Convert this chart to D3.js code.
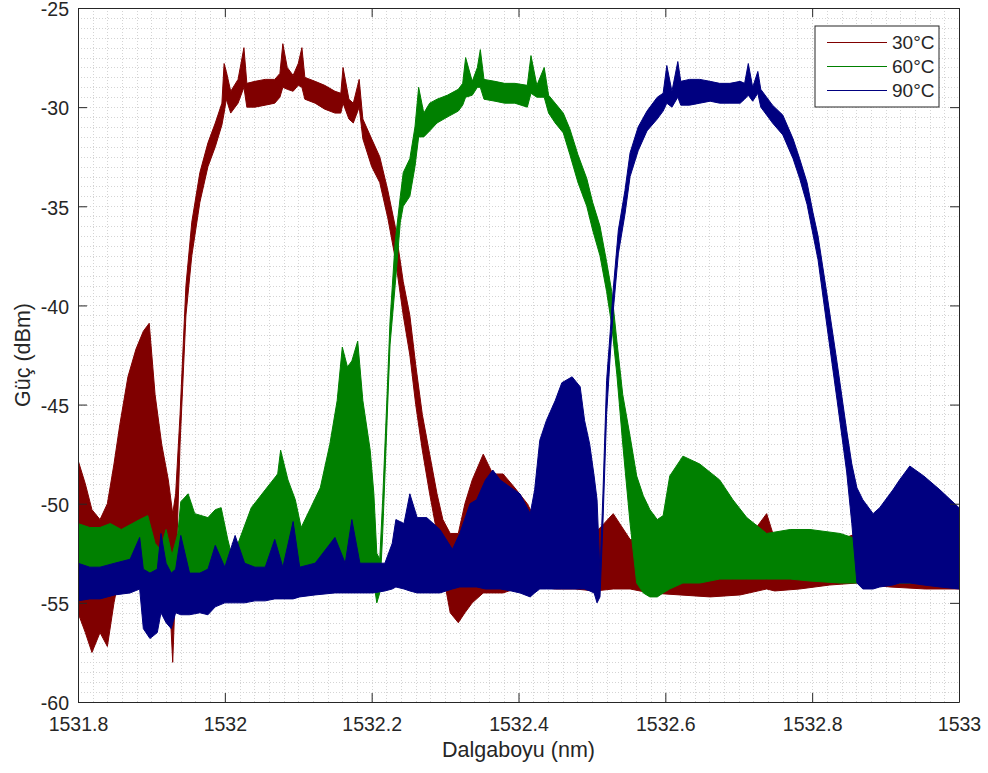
<!DOCTYPE html>
<html>
<head>
<meta charset="utf-8">
<script src="https://cdn.jsdelivr.net/npm/d3@7"></script>
<style>
  body { margin: 0; background: #fff; }
  svg text { font-family: "Liberation Sans", Arial, Helvetica, sans-serif; fill: #262626; }
</style>
</head>
<body>
<svg id="chart"></svg>
<script>
// legend / colours
const seriesNames = ['30°C', '60°C', '90°C'];
const seriesColors = ['#800000', '#008000', '#000080'];

// tick labels
const xTicks = [1531.8, 1532, 1532.2, 1532.4, 1532.6, 1532.8, 1533];
const yTicks = [-60, -55, -50, -45, -40, -35, -30, -25];

// 30°C : wavelength (nm), lower and upper edge of the noise band (dBm)
const wl30 = [1531.800, 1531.810, 1531.819, 1531.830, 1531.840, 1531.849, 1531.857, 1531.868, 1531.879, 1531.889,
  1531.897, 1531.905, 1531.914, 1531.923, 1531.929, 1531.933, 1531.939, 1531.947, 1531.955, 1531.966,
  1531.977, 1531.987, 1531.996, 1531.999, 1532.002, 1532.008, 1532.018, 1532.026, 1532.030, 1532.041,
  1532.055, 1532.068, 1532.075, 1532.079, 1532.085, 1532.093, 1532.100, 1532.105, 1532.109, 1532.123,
  1532.136, 1532.150, 1532.158, 1532.161, 1532.169, 1532.175, 1532.183, 1532.188, 1532.200, 1532.211,
  1532.222, 1532.232, 1532.243, 1532.252, 1532.260, 1532.269, 1532.279, 1532.289, 1532.297, 1532.307,
  1532.318, 1532.327, 1532.337, 1532.352, 1532.365, 1532.379, 1532.395, 1532.412, 1532.429, 1532.450,
  1532.477, 1532.504, 1532.529, 1532.552, 1532.579, 1532.620, 1532.661, 1532.702, 1532.738, 1532.749,
  1532.783, 1532.824, 1532.861, 1532.906, 1532.954, 1533.000];
const lo30 = [-55.5, -56.5, -57.5, -56.5, -57.2, -55.0, -53.5, -53.5, -53.5, -53.5,
  -53.5, -53.5, -53.5, -53.5, -58.0, -54.0, -47.0, -40.5, -37.5, -34.8,
  -33.0, -32.0, -30.9, -30.3, -29.6, -30.3, -29.8, -29.0, -30.0, -30.0,
  -29.9, -29.8, -29.5, -29.0, -29.1, -29.2, -28.9, -29.0, -29.6, -29.8,
  -30.1, -30.3, -30.3, -29.8, -30.6, -30.8, -30.0, -31.6, -33.0, -33.8,
  -35.6, -37.6, -40.5, -42.5, -45.0, -47.3, -49.5, -51.5, -53.5, -55.5,
  -56.0, -55.5, -55.0, -54.5, -54.5, -54.5, -54.3, -54.2, -54.2, -54.3,
  -54.3, -54.4, -54.3, -54.3, -54.5, -54.6, -54.7, -54.6, -54.3, -54.4,
  -54.3, -54.1, -54.0, -54.2, -54.3, -54.3];
const hi30 = [-47.8, -49.0, -50.3, -50.8, -50.0, -48.0, -46.0, -43.6, -42.2, -41.3,
  -40.9, -44.5, -47.0, -48.8, -50.5, -49.5, -45.5, -39.0, -35.8, -33.3,
  -31.8, -30.8, -29.8, -27.8, -28.2, -29.2, -28.6, -27.0, -28.8, -28.7,
  -28.6, -28.6, -28.3, -26.8, -28.0, -28.4, -27.8, -27.0, -28.5, -28.7,
  -28.9, -29.2, -29.3, -28.0, -29.6, -29.8, -28.6, -30.6, -31.6, -32.5,
  -34.2, -36.0, -38.8, -40.5, -43.0, -45.5, -47.5, -49.5, -50.8, -51.5,
  -51.5, -50.0, -48.8, -47.5, -48.5, -48.5, -49.2, -50.0, -51.2, -51.6,
  -51.6, -51.5, -50.5, -51.8, -52.0, -52.3, -52.4, -52.3, -50.5, -51.8,
  -51.8, -52.0, -51.5, -52.2, -52.5, -52.5];

// 60°C
const wl60 = [1531.800, 1531.816, 1531.830, 1531.844, 1531.859, 1531.874, 1531.884, 1531.895, 1531.905, 1531.912,
  1531.920, 1531.928, 1531.936, 1531.940, 1531.950, 1531.959, 1531.977, 1531.987, 1531.995, 1532.004,
  1532.010, 1532.018, 1532.036, 1532.055, 1532.072, 1532.076, 1532.086, 1532.096, 1532.104, 1532.117,
  1532.130, 1532.143, 1532.153, 1532.160, 1532.167, 1532.173, 1532.181, 1532.188, 1532.198, 1532.203,
  1532.207, 1532.211, 1532.215, 1532.221, 1532.225, 1532.232, 1532.239, 1532.243, 1532.252, 1532.259,
  1532.264, 1532.271, 1532.279, 1532.289, 1532.303, 1532.318, 1532.324, 1532.328, 1532.337, 1532.344,
  1532.348, 1532.353, 1532.368, 1532.381, 1532.395, 1532.412, 1532.417, 1532.425, 1532.435, 1532.441,
  1532.450, 1532.461, 1532.470, 1532.481, 1532.493, 1532.501, 1532.511, 1532.520, 1532.527, 1532.534,
  1532.542, 1532.552, 1532.561, 1532.570, 1532.579, 1532.589, 1532.597, 1532.606, 1532.624, 1532.647,
  1532.674, 1532.692, 1532.711, 1532.738, 1532.770, 1532.797, 1532.838, 1532.879, 1532.933, 1533.000];
const lo60 = [-53.8, -53.8, -53.8, -53.8, -53.8, -53.8, -53.8, -53.8, -54.0, -54.0,
  -54.0, -54.2, -54.0, -54.0, -54.0, -53.8, -53.8, -53.8, -53.8, -53.8,
  -53.8, -53.8, -53.8, -53.8, -53.8, -53.8, -53.8, -53.8, -53.8, -53.8,
  -53.8, -53.8, -53.8, -53.8, -53.8, -53.8, -53.8, -53.8, -53.8, -54.0,
  -55.0, -54.5, -51.5, -45.8, -42.0, -39.0, -35.8, -35.0, -34.5, -33.0,
  -31.5, -31.5, -31.2, -30.8, -30.5, -30.2, -29.9, -29.5, -29.4, -29.0,
  -29.0, -29.6, -29.7, -29.8, -29.8, -30.0, -29.3, -29.5, -29.5, -30.3,
  -30.8, -31.3, -32.4, -33.8, -35.0, -36.2, -37.5, -39.3, -41.0, -43.5,
  -47.0, -51.0, -54.0, -54.5, -54.7, -54.7, -54.5, -54.3, -54.0, -54.0,
  -53.8, -53.8, -53.8, -53.8, -53.8, -53.9, -54.0, -54.0, -54.0, -54.0];
const hi60 = [-51.0, -51.2, -51.2, -51.0, -51.3, -51.0, -50.8, -50.6, -52.0, -52.3,
  -51.3, -52.6, -51.5, -49.9, -49.5, -50.5, -50.7, -50.3, -50.2, -51.8,
  -52.7, -52.0, -50.2, -49.3, -48.5, -47.3, -48.8, -49.8, -51.2, -50.2,
  -49.2, -47.0, -44.8, -42.1, -43.1, -42.8, -41.8, -44.8, -47.3, -49.5,
  -52.5, -52.8, -49.8, -44.5, -40.8, -36.8, -34.5, -33.3, -32.6, -31.0,
  -29.0, -30.3, -29.8, -29.6, -29.4, -29.1, -28.8, -27.5, -28.7, -28.0,
  -27.1, -28.6, -28.7, -28.8, -28.8, -28.9, -27.4, -28.9, -28.0, -29.4,
  -29.8, -30.3, -31.1, -32.4, -33.6, -34.8, -36.0, -37.8, -39.3, -41.8,
  -44.5, -46.6, -48.6, -49.6, -50.3, -50.8, -50.6, -48.6, -47.6, -48.0,
  -48.8, -49.8, -50.7, -51.5, -51.3, -51.3, -51.5, -52.0, -52.2, -52.3];

// 90°C
const wl90 = [1531.800, 1531.816, 1531.830, 1531.850, 1531.871, 1531.884, 1531.889, 1531.898, 1531.908, 1531.913,
  1531.920, 1531.927, 1531.933, 1531.940, 1531.952, 1531.966, 1531.977, 1531.987, 1532.000, 1532.014,
  1532.027, 1532.041, 1532.055, 1532.068, 1532.079, 1532.093, 1532.102, 1532.123, 1532.150, 1532.164,
  1532.173, 1532.184, 1532.202, 1532.218, 1532.228, 1532.233, 1532.244, 1532.252, 1532.262, 1532.275,
  1532.293, 1532.310, 1532.320, 1532.334, 1532.343, 1532.355, 1532.365, 1532.375, 1532.390, 1532.402,
  1532.416, 1532.422, 1532.429, 1532.438, 1532.450, 1532.459, 1532.473, 1532.484, 1532.490, 1532.497,
  1532.503, 1532.507, 1532.511, 1532.515, 1532.520, 1532.525, 1532.529, 1532.536, 1532.545, 1532.552,
  1532.563, 1532.575, 1532.589, 1532.597, 1532.602, 1532.609, 1532.617, 1532.621, 1532.633, 1532.647,
  1532.661, 1532.674, 1532.688, 1532.702, 1532.708, 1532.713, 1532.719, 1532.726, 1532.730, 1532.746,
  1532.760, 1532.774, 1532.783, 1532.793, 1532.801, 1532.808, 1532.820, 1532.834, 1532.847, 1532.854,
  1532.861, 1532.869, 1532.883, 1532.892, 1532.910, 1532.919, 1532.933, 1532.952, 1532.974, 1533.000];
const lo90 = [-54.9, -54.8, -54.8, -54.6, -54.5, -54.3, -56.3, -56.8, -56.5, -55.5,
  -56.0, -56.3, -55.5, -55.6, -55.6, -55.5, -55.6, -55.2, -55.0, -55.0,
  -55.0, -54.9, -54.9, -54.8, -54.8, -54.8, -54.7, -54.6, -54.5, -54.5,
  -54.5, -54.5, -54.5, -54.4, -54.3, -54.2, -54.3, -54.4, -54.5, -54.5,
  -54.5, -54.3, -54.2, -54.2, -54.2, -54.3, -54.3, -54.3, -54.4, -54.5,
  -54.7, -54.5, -54.3, -54.3, -54.3, -54.3, -54.3, -54.3, -54.3, -54.4,
  -54.5, -55.0, -54.7, -51.0, -45.5, -42.5, -40.3, -37.4, -35.4, -33.5,
  -32.2, -31.2, -30.6, -30.2, -29.8, -30.0, -29.5, -29.9, -29.9, -29.8,
  -29.7, -29.8, -29.8, -29.8, -29.6, -29.4, -29.7, -29.3, -30.0, -30.8,
  -31.4, -32.6, -33.6, -34.9, -36.4, -37.7, -41.0, -44.8, -48.4, -51.0,
  -54.0, -54.3, -54.3, -54.2, -54.1, -54.0, -54.0, -54.1, -54.2, -54.3];
const hi90 = [-53.0, -53.2, -53.2, -53.0, -52.8, -51.7, -53.3, -53.5, -53.3, -51.5,
  -53.0, -53.5, -53.3, -51.6, -53.5, -53.5, -53.3, -52.1, -53.2, -51.6,
  -53.0, -53.2, -53.2, -51.8, -53.2, -50.9, -53.2, -53.0, -51.7, -53.0,
  -50.8, -53.0, -53.0, -53.0, -52.0, -50.8, -51.0, -49.5, -50.7, -50.7,
  -51.3, -52.3, -51.5, -50.0, -49.8, -48.8, -48.3, -48.8, -49.2, -49.5,
  -50.5, -49.3, -46.8, -45.8, -44.8, -43.9, -43.6, -44.1, -45.8, -47.0,
  -48.6, -49.8, -53.5, -49.5, -43.8, -41.3, -39.2, -36.2, -34.2, -32.3,
  -31.0, -30.2, -29.5, -29.3, -27.9, -29.2, -27.7, -28.7, -28.6, -28.6,
  -28.7, -28.8, -28.8, -28.7, -28.8, -27.8, -29.0, -28.2, -29.1, -29.9,
  -30.4, -31.6, -32.6, -33.8, -35.3, -36.5, -39.4, -42.9, -46.3, -48.0,
  -49.2, -49.8, -50.5, -50.2, -49.3, -48.8, -48.1, -48.6, -49.3, -50.2];

const spectra = [
  {name: seriesNames[0], color: seriesColors[0], wl: wl30, lo: lo30, hi: hi30},
  {name: seriesNames[1], color: seriesColors[1], wl: wl60, lo: lo60, hi: hi60},
  {name: seriesNames[2], color: seriesColors[2], wl: wl90, lo: lo90, hi: hi90}
];

class SpectrumChart {

  constructor(_config, _data) {
    this.config = {
      parentElement: _config.parentElement,
      containerWidth: _config.containerWidth || 988,
      containerHeight: _config.containerHeight || 773,
      margin: _config.margin || {top: 8, right: 29, bottom: 71, left: 78},
      tickLength: 9
    };
    this.data = _data;
    this.initVis();
  }

  initVis() {
    let vis = this;
    const m = vis.config.margin;

    vis.width = vis.config.containerWidth - m.left - m.right;
    vis.height = vis.config.containerHeight - m.top - m.bottom;

    vis.xScale = d3.scaleLinear()
        .domain([xTicks[0], xTicks[xTicks.length - 1]])
        .range([0, vis.width]);

    vis.yScale = d3.scaleLinear()
        .domain([yTicks[0], yTicks[yTicks.length - 1]])
        .range([vis.height, 0]);

    vis.svg = d3.select(vis.config.parentElement)
        .attr('width', vis.config.containerWidth)
        .attr('height', vis.config.containerHeight);

    vis.chart = vis.svg.append('g')
        .attr('transform', `translate(${m.left},${m.top})`);

    vis.chart.append('clipPath')
        .attr('id', 'plot-clip')
      .append('rect')
        .attr('width', vis.width)
        .attr('height', vis.height);

    // dotted grid (minor + major)
    const grid = vis.chart.append('g')
        .attr('class', 'grid')
        .attr('stroke', '#d4d4d4')
        .attr('stroke-width', 1)
        .attr('stroke-dasharray', '1,2')
        .attr('shape-rendering', 'crispEdges');

    grid.selectAll('.vgrid')
        .data(vis.xScale.ticks(60))
      .join('line')
        .attr('class', 'vgrid')
        .attr('x1', d => Math.round(vis.xScale(d)) + 0.5)
        .attr('x2', d => Math.round(vis.xScale(d)) + 0.5)
        .attr('y1', 0)
        .attr('y2', vis.height);

    grid.selectAll('.hgrid')
        .data(vis.yScale.ticks(70))
      .join('line')
        .attr('class', 'hgrid')
        .attr('y1', d => Math.round(vis.yScale(d)) + 0.5)
        .attr('y2', d => Math.round(vis.yScale(d)) + 0.5)
        .attr('x1', 0)
        .attr('x2', vis.width);

    vis.plotG = vis.chart.append('g')
        .attr('clip-path', 'url(#plot-clip)');

    vis.axisG = vis.chart.append('g');

    // axis titles
    vis.chart.append('text')
        .attr('class', 'axis-title')
        .attr('x', vis.width / 2)
        .attr('y', vis.height + 55)
        .style('text-anchor', 'middle')
        .style('font-size', '21.5px')
        .text('Dalgaboyu (nm)');

    vis.chart.append('text')
        .attr('class', 'axis-title')
        .attr('transform', `translate(${-48},${vis.height / 2}) rotate(-90)`)
        .style('text-anchor', 'middle')
        .style('font-size', '21.5px')
        .text('Güç (dBm)');
  }

  renderVis() {
    let vis = this;
    const tl = vis.config.tickLength;

    const area = d3.area()
        .x(d => vis.xScale(d.wl))
        .y0(d => vis.yScale(d.lo))
        .y1(d => vis.yScale(d.hi));

    vis.plotG.selectAll('.band')
        .data(vis.data)
      .join('path')
        .attr('class', 'band')
        .attr('d', s => area(s.wl.map((w, i) => ({wl: w, lo: s.lo[i], hi: s.hi[i]}))))
        .attr('fill', s => s.color)
        .attr('stroke', s => s.color)
        .attr('stroke-width', 1)
        .attr('stroke-linejoin', 'round');

    // axes: ticks pointing inward on all four sides
    const fmtX = d => String(+d.toFixed(1));
    const xBottom = d3.axisBottom(vis.xScale).tickValues(xTicks).tickFormat(fmtX)
        .tickSizeInner(-tl).tickSizeOuter(0).tickPadding(15);
    const xTop = d3.axisTop(vis.xScale).tickValues(xTicks).tickFormat('')
        .tickSizeInner(-tl).tickSizeOuter(0);
    const yLeft = d3.axisLeft(vis.yScale).tickValues(yTicks).tickFormat(d => String(d))
        .tickSizeInner(-tl).tickSizeOuter(0).tickPadding(9);
    const yRight = d3.axisRight(vis.yScale).tickValues(yTicks).tickFormat('')
        .tickSizeInner(-tl).tickSizeOuter(0);

    vis.axisG.append('g').attr('transform', `translate(0,${vis.height})`).call(xBottom);
    vis.axisG.append('g').call(xTop);
    vis.axisG.append('g').attr('class', 'y-left').call(yLeft);
    vis.axisG.append('g').attr('transform', `translate(${vis.width},0)`).call(yRight);

    vis.axisG.selectAll('.domain, .tick line')
        .attr('stroke', '#262626')
        .attr('stroke-width', 1);
    vis.axisG.selectAll('.tick text')
        .attr('fill', '#262626')
        .style('font-size', '19.5px')
        .style('font-family', '"Liberation Sans", Arial, Helvetica, sans-serif');
    vis.axisG.selectAll('.y-left .tick text')
        .attr('dy', '0.4em');

    // legend box, top right
    const lg = vis.chart.append('g')
        .attr('transform', `translate(${vis.width - 144},${18})`);

    lg.append('rect')
        .attr('width', 124)
        .attr('height', 81)
        .attr('fill', '#fff')
        .attr('stroke', '#262626')
        .attr('stroke-width', 1);

    const rows = lg.selectAll('.legend-row')
        .data(vis.data)
      .join('g')
        .attr('class', 'legend-row')
        .attr('transform', (d, i) => `translate(0,${16.5 + i * 24})`);

    rows.append('line')
        .attr('x1', 12)
        .attr('x2', 72)
        .attr('stroke', d => d.color)
        .attr('stroke-width', 1);

    rows.append('text')
        .attr('x', 77)
        .attr('dy', '0.35em')
        .style('font-size', '19px')
        .text(d => d.name);
  }
}

const chart = new SpectrumChart({parentElement: '#chart'}, spectra);
chart.renderVis();
</script>
</body>
</html>
